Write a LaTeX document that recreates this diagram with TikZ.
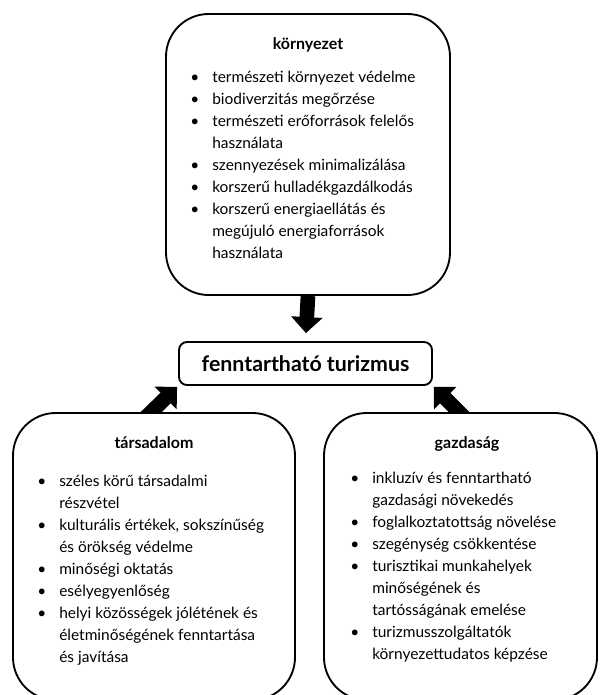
\documentclass[tikz,border=0pt]{standalone}
\usepackage{fontspec}
\setmainfont{Lato}
\usetikzlibrary{arrows.meta,positioning,backgrounds}

\begin{document}
\begin{tikzpicture}[
  x=0.75pt, y=-0.75pt,
  pillarbox/.style={
    rectangle, rounded corners=32pt,
    draw=black, line width=1.4pt,
    fill=white, inner sep=0pt
  },
  goalbox/.style={
    rectangle, rounded corners=6pt,
    draw=black, line width=1.4pt,
    fill=white,
    minimum width=189.75pt, minimum height=32.25pt,
    font=\fontsize{16}{18}\selectfont\bfseries
  },
  pillartitle/.style={anchor=base, inner sep=0pt, font=\fontsize{12}{14}\selectfont\bfseries},
  pillarlist/.style={anchor=base west, inner sep=0pt, font=\fontsize{11.6}{16.5}\selectfont},
  feed/.style={line width=11pt, -{Triangle[length=12pt, width=23pt]}}
]
\useasboundingbox (0,0) rectangle (600,695);

% the three pillars and the goal
\node[pillarbox, minimum width=213pt, minimum height=210.75pt]   (env) at (308,154.5) {};
\node[pillarbox, minimum width=211.5pt, minimum height=215.25pt] (soc) at (154,556.5) {};
\node[pillarbox, minimum width=204.75pt, minimum height=215.25pt] (eco) at (460.5,556.5) {};
\node[goalbox] (goal) at (305.5,363.5) {fenntartható turizmus};

\coordinate (socfoot) at (144,419);
\coordinate (ecofoot) at (466,419);

\begin{scope}[on background layer]
\draw[feed, shorten >=6pt] (env.south) -- (goal.north);
\draw[feed, shorten >=1pt] (socfoot) -- (goal.south west);
\draw[feed, shorten >=1pt] (ecofoot) -- (goal.south east);
\end{scope}

\node[pillartitle] (envtitle) at (308,50)  {környezet};
\node[pillartitle] (soctitle) at (154,448) {társadalom};
\node[pillartitle] (ecotitle) at (467,448) {gazdaság};

\node[pillarlist] (envlist) at (190,83) {%
  \begin{tabular}[t]{@{}p{16.5pt}@{}l@{}}
  \textbullet & természeti környezet védelme\\
  \textbullet & biodiverzitás megőrzése\\
  \textbullet & természeti erőforrások felelős\\
              & használata\\
  \textbullet & szennyezések minimalizálása\\
  \textbullet & korszerű hulladékgazdálkodás\\
  \textbullet & korszerű energiaellátás és\\
              & megújuló energiaforrások\\
              & használata
  \end{tabular}};

\node[pillarlist] (soclist) at (37,486) {%
  \begin{tabular}[t]{@{}p{16.5pt}@{}l@{}}
  \textbullet & széles körű társadalmi\\
              & részvétel\\
  \textbullet & kulturális értékek, sokszínűség\\
              & és örökség védelme\\
  \textbullet & minőségi oktatás\\
  \textbullet & esélyegyenlőség\\
  \textbullet & helyi közösségek jólétének és\\
              & életminőségének fenntartása\\
              & és javítása
  \end{tabular}};

\node[pillarlist] (ecolist) at (350,483) {%
  \begin{tabular}[t]{@{}p{16.5pt}@{}l@{}}
  \textbullet & inkluzív és fenntartható\\
              & gazdasági növekedés\\
  \textbullet & foglalkoztatottság növelése\\
  \textbullet & szegénység csökkentése\\
  \textbullet & turisztikai munkahelyek\\
              & minőségének és\\
              & tartósságának emelése\\
  \textbullet & turizmusszolgáltatók\\
              & környezettudatos képzése
  \end{tabular}};
\end{tikzpicture}
\end{document}
